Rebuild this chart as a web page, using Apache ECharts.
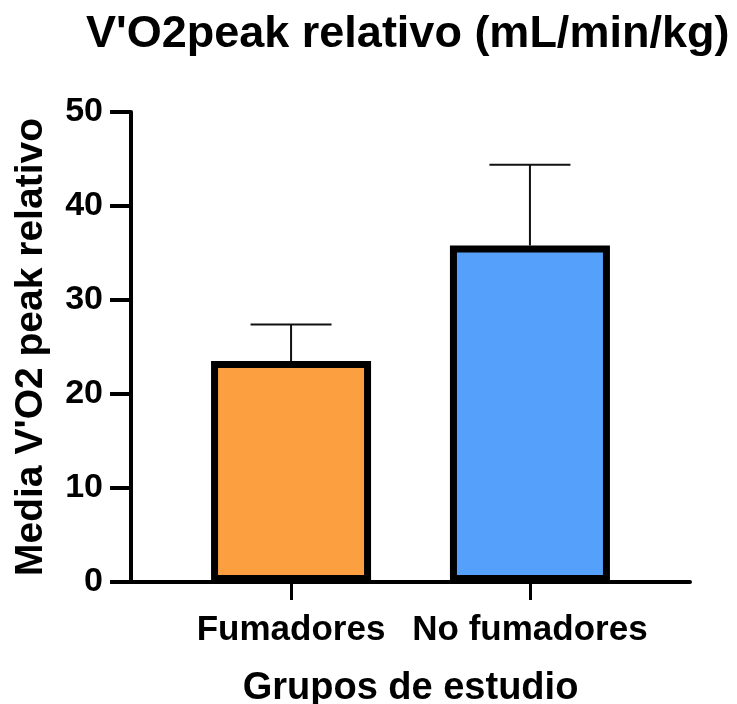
<!DOCTYPE html>
<html>
<head>
<meta charset="utf-8">
<script src="https://cdn.jsdelivr.net/npm/echarts@6/dist/echarts.min.js"></script>
<style>
  html, body { margin: 0; padding: 0; background: #fff; }
  #main { width: 737px; height: 704px; }
</style>
</head>
<body>
<div id="main"></div>
<script>
// data
var categories = ["Fumadores", "No fumadores"];
var means = [23.5, 35.8];
var sds = [3.9, 8.6];
var barColors = ["#FC9F40", "#55A0FA"];
var yTicks = [0, 10, 20, 30, 40, 50];

var font = "'Liberation Sans', Arial, sans-serif";

var chart = echarts.init(document.getElementById("main"));
window.addEventListener("resize", chart.resize);

var barData = [];
var errData = [];
for (var i = 0; i < categories.length; i++) {
  barData.push({ value: [i, means[i]], itemStyle: { color: barColors[i] } });
  errData.push([i, means[i], sds[i]]);
}

var option = {
  animation: false,
  title: {
    text: "V'O2peak relativo (mL/min/kg)",
    left: 86,
    top: 12,
    padding: 0,
    textStyle: { fontFamily: font, fontWeight: "bold", fontSize: 45, color: "#000" }
  },
  grid: { left: 131, right: 47, top: 112, bottom: 122, outerBoundsMode: "none" },
  xAxis: {
    type: "value",
    min: -0.67,
    max: 1.67,
    splitLine: { show: false },
    axisLine: { show: true, onZero: false, lineStyle: { color: "#000", width: 4 } },
    axisTick: { show: true, customValues: [0, 1], length: 18, lineStyle: { color: "#000", width: 3 } },
    axisLabel: {
      customValues: [0, 1],
      margin: 31,
      fontFamily: font, fontWeight: "bold", fontSize: 35, color: "#000",
      formatter: function (v) { return categories[Math.round(v)]; }
    },
    name: "Grupos de estudio",
    nameLocation: "middle",
    nameGap: 88,
    nameTextStyle: { fontFamily: font, fontWeight: "bold", fontSize: 38, color: "#000" }
  },
  yAxis: {
    type: "value",
    min: yTicks[0],
    max: yTicks[yTicks.length - 1],
    interval: 10,
    splitLine: { show: false },
    axisLine: { show: true, onZero: false, lineStyle: { color: "#000", width: 4 } },
    axisTick: { show: true, length: 21, lineStyle: { color: "#000", width: 4 } },
    axisLabel: { margin: 28, fontFamily: font, fontWeight: "bold", fontSize: 34, color: "#000" },
    name: "Media V'O2 peak relativo",
    nameLocation: "middle",
    nameGap: 80,
    nameTextStyle: { fontFamily: font, fontWeight: "bold", fontSize: 39, color: "#000" }
  },
  series: [
    {
      type: "custom",
      z: 1,
      renderItem: function (params, api) {
        var x = api.value(0), m = api.value(1), sd = api.value(2);
        var base = api.coord([x, m]);
        var top = api.coord([x, m + sd]);
        var style = { stroke: "#111", lineWidth: 2 };
        return {
          type: "group",
          children: [
            { type: "line", shape: { x1: base[0], y1: base[1], x2: top[0], y2: top[1] }, style: style },
            { type: "line", shape: { x1: top[0] - 40.5, y1: top[1], x2: top[0] + 40.5, y2: top[1] }, style: style }
          ]
        };
      },
      data: errData
    },
    {
      type: "bar",
      z: 2,
      barWidth: 160,
      itemStyle: { borderColor: "#000", borderWidth: 7 },
      data: barData
    }
  ]
};

chart.setOption(option);
</script>
</body>
</html>
